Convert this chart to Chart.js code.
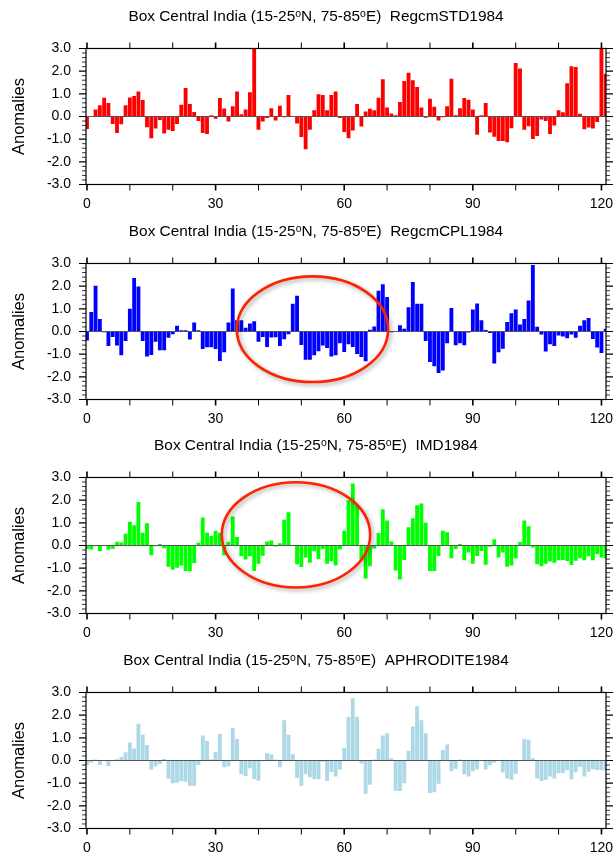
<!DOCTYPE html>
<html><head><meta charset="utf-8">
<script src="https://cdn.jsdelivr.net/npm/chart.js@4.4.1/dist/chart.umd.min.js"></script>
<style>
html,body{margin:0;padding:0;background:#fff;overflow:hidden;width:614px;height:862px;position:relative;}
canvas.panel{position:absolute;left:0;}
</style></head><body>
<canvas id="c0" class="panel" width="632" height="215" style="top:0px"></canvas>
<canvas id="c1" class="panel" width="632" height="215" style="top:215px"></canvas>
<canvas id="c2" class="panel" width="632" height="215" style="top:429px"></canvas>
<canvas id="c3" class="panel" width="632" height="215" style="top:644px"></canvas>
<script>
// ---------------- data ----------------
const xIndex = [0,1,2,3,4,5,6,7,8,9,10,11,12,13,14,15,16,17,18,19,20,21,22,23,24,25,26,27,28,29,
30,31,32,33,34,35,36,37,38,39,40,41,42,43,44,45,46,47,48,49,50,51,52,53,54,55,56,57,58,59,
60,61,62,63,64,65,66,67,68,69,70,71,72,73,74,75,76,77,78,79,80,81,82,83,84,85,86,87,88,89,
90,91,92,93,94,95,96,97,98,99,100,101,102,103,104,105,106,107,108,109,110,111,112,113,114,115,116,117,118,119,120,121];

const xTickLabels = [0,30,60,90,120];
const xMinorTicks = [0,10,20,30,40,50,60,70,80,90,100,110,120];
const yTickLabels = [-3,-2,-1,0,1,2,3];

const regcmSTD1984 = [-0.55,0.02,0.31,0.5,0.83,0.6,-0.33,-0.73,-0.34,0.5,
0.84,0.9,1.1,0.73,-0.47,-0.96,-0.53,-0.16,-0.75,-0.58,
-0.64,-0.33,0.52,1.26,0.55,0.2,-0.2,-0.73,-0.77,0.05,
-0.1,0.82,0.35,-0.22,0.45,1.1,0.1,0.31,1.07,3.0,
-0.58,-0.22,-0.07,0.36,-0.18,0.47,-0.03,0.95,0.0,-0.31,
-0.9,-1.45,-0.59,0.28,0.98,0.95,0.27,0.95,1.1,-0.07,
-0.68,-0.96,-0.62,0.55,-0.44,0.22,0.34,0.27,0.83,1.64,
0.4,0.13,0.06,0.64,1.56,1.93,1.6,1.3,0.4,-0.06,
0.78,0.43,-0.18,-0.03,0.45,1.66,0.05,0.36,0.82,0.74,
0.31,-0.8,0.05,0.6,-0.71,-0.89,-1.08,-1.08,-1.14,-0.52,
2.36,2.12,-0.58,-0.43,-0.99,-0.86,-0.13,-0.2,-0.77,-0.4,
0.27,0.19,1.47,2.22,2.18,0.12,-0.56,-0.49,-0.53,-0.24,
3.0,1.88];

const regcmCPL1984 = [-0.4,0.86,2.02,0.55,-0.03,-0.64,-0.24,-0.62,-1.05,-0.42,
1.0,2.36,1.99,-0.42,-1.1,-1.04,-0.45,-0.83,-0.83,-0.28,
-0.12,0.25,0.05,0.05,-0.35,0.4,0.06,-0.77,-0.7,-0.7,
-0.77,-1.3,-0.92,0.4,1.9,0.5,0.5,0.17,0.35,0.45,
-0.45,-0.24,-0.68,-0.27,-0.25,-0.64,-0.34,-0.12,1.22,1.58,
-0.6,-1.25,-1.25,-1.05,-0.87,-0.62,-0.73,-1.1,-1.05,-0.52,
-0.9,-0.56,-0.68,-0.99,-1.12,-1.31,0.08,0.22,1.8,2.08,
1.52,-0.03,0.0,0.28,0.12,1.07,2.18,1.22,1.22,-0.42,
-1.35,-1.53,-1.83,-1.72,-0.52,1.04,-0.61,-0.52,-0.61,-0.05,
0.97,1.23,0.5,0.07,-0.07,-1.41,-0.92,-0.76,0.42,0.8,
0.97,0.31,0.55,1.37,2.93,0.21,-0.13,-0.88,-0.56,-0.64,
-0.18,-0.22,-0.3,-0.13,-0.28,0.25,0.5,0.59,-0.33,-0.71,
-0.95,0.12];

const imd1984 = [-0.15,-0.18,-0.03,-0.25,0.0,-0.18,-0.15,0.16,0.13,0.52,
1.05,0.89,1.92,0.56,0.98,-0.43,-0.03,0.07,-0.12,-0.94,
-1.07,-0.98,-0.88,-1.13,-1.14,-0.77,0.12,1.23,0.56,0.42,
0.65,0.56,-0.43,0.16,1.28,0.37,-0.48,-0.62,-0.48,-1.13,
-0.8,-0.45,0.18,0.22,-0.04,0.1,1.13,1.47,0.0,-0.83,
-0.95,-0.53,-0.76,-0.25,-0.61,-0.16,-0.8,-0.7,-0.88,-0.18,
0.65,2.0,2.73,1.77,-0.65,-1.46,-0.92,-0.13,0.55,1.6,
1.1,0.18,-1.1,-1.5,-0.64,0.8,1.2,1.77,1.85,1.0,
-1.13,-1.13,-0.46,0.65,0.58,-0.56,-0.16,0.07,-0.65,-0.31,
-0.8,-0.46,-0.24,-0.85,-0.06,0.28,-0.53,-0.31,-0.94,-0.88,
-0.56,0.15,1.1,0.85,-0.09,-0.83,-0.92,-0.8,-0.71,-0.76,
-0.65,-0.64,-0.68,-0.86,-0.67,-0.56,-0.65,-0.48,-0.65,-0.39,
-0.53,-0.56];

const aphrodite1984 = [-0.2,-0.09,0.04,-0.2,0.0,-0.24,-0.02,0.06,0.15,0.36,
0.79,0.53,1.62,1.14,0.68,-0.4,-0.25,-0.15,0.07,-0.8,
-1.0,-0.98,-0.91,-0.94,-1.11,-1.11,-0.2,1.1,0.86,0.06,
0.39,1.17,-0.3,-0.25,1.43,0.95,-0.61,-0.68,-0.34,-0.82,
-0.89,0.0,0.33,0.28,0.04,-0.3,1.77,1.14,0.27,-0.77,
-1.11,-0.61,-0.74,-0.82,-0.83,-0.06,-0.91,-0.5,-0.71,-0.4,
0.55,1.92,2.75,1.93,-0.13,-1.47,-1.07,0.04,0.52,1.1,
1.2,0.1,-1.34,-1.35,-1.0,0.43,1.5,2.39,1.77,1.2,
-1.43,-1.4,-1.03,0.46,0.7,-0.48,-0.36,0.04,-0.61,-0.71,
-0.48,-0.39,0.0,-0.4,-0.21,-0.1,0.0,-0.53,-0.79,-0.85,
-0.59,0.0,0.95,0.91,0.1,-0.79,-0.91,-0.85,-0.71,-0.79,
-0.56,-0.55,-0.43,-0.83,-0.52,-0.28,-0.71,-0.5,-0.39,-0.42,
-0.42,-0.43];

const panelNames = ['RegcmSTD1984','RegcmCPL1984','IMD1984','APHRODITE1984'];
const panelSeries = [regcmSTD1984, regcmCPL1984, imd1984, aphrodite1984];
const boxTitle = 'Box Central India (15-25ᵒN, 75-85ᵒE)';
// highlight ellipses (annotation, in data units: centre x, centre y, radius x, radius y)
const highlightEllipses = [null, {cx:52.6, cy:0.1, rx:17.65, ry:2.33}, {cx:48.75, cy:0.47, rx:17.3, ry:2.32}, null];

// ---------------- styling ----------------
const barColors = ['#ff0000','#0000ff','#00ff00','#add8e6'];
const FONT = "'Liberation Sans', Arial, Helvetica, sans-serif";

const framePlugin = {
  id: 'frame',
  afterDatasetsDraw(chart) {
    const {ctx, chartArea: a, scales: {y}} = chart;
    const y0 = Math.round(y.getPixelForValue(0)) + 0.5;
    ctx.save();
    ctx.strokeStyle = '#555555';
    ctx.lineWidth = 1;
    ctx.beginPath(); ctx.moveTo(a.left, y0); ctx.lineTo(a.right, y0); ctx.stroke();
    ctx.restore();
  },
  afterDraw(chart, args, opts) {
    const {ctx, chartArea: a, scales: {x, y}} = chart;
    ctx.save();
    ctx.strokeStyle = '#000';
    ctx.lineWidth = 1.2;
    ctx.strokeRect(a.left, a.top, a.right - a.left, a.bottom - a.top);
    xMinorTicks.forEach(v => {
      const px = x.getPixelForValue(v);
      const major = xTickLabels.includes(v);
      ctx.lineWidth = major ? 1.6 : 1;
      const len = 6;
      ctx.beginPath();
      ctx.moveTo(px, a.bottom); ctx.lineTo(px, a.bottom + len);
      ctx.moveTo(px, a.top); ctx.lineTo(px, a.top - len);
      ctx.stroke();
    });
    for (let k = -15; k <= 15; k++) {
      const v = k / 5;
      const py = y.getPixelForValue(v);
      const major = (k % 5 === 0);
      const len = major ? 7 : 4;
      ctx.lineWidth = major ? 1.2 : 0.8;
      ctx.beginPath();
      ctx.moveTo(a.left, py); ctx.lineTo(a.left - len, py);
      ctx.moveTo(a.right, py); ctx.lineTo(a.right + len, py);
      ctx.stroke();
    }
    const e = opts.ellipse;
    if (e) {
      const cx = x.getPixelForValue(e.cx), cy = y.getPixelForValue(e.cy);
      const rx = Math.abs(x.getPixelForValue(e.cx + e.rx) - cx);
      const ry = Math.abs(y.getPixelForValue(e.cy + e.ry) - cy);
      ctx.shadowColor = 'rgba(0,0,0,0.35)';
      ctx.shadowBlur = 4; ctx.shadowOffsetX = 2; ctx.shadowOffsetY = 2;
      ctx.strokeStyle = '#ff2200';
      ctx.lineWidth = 2.6;
      ctx.beginPath(); ctx.ellipse(cx, cy, rx, ry, 0, 0, Math.PI * 2); ctx.stroke();
    }
    ctx.restore();
  }
};

panelSeries.forEach((series, i) => {
  new Chart(document.getElementById('c' + i), {
    type: 'bar',
    data: {
      datasets: [{
        data: series.map((v, j) => ({x: xIndex[j], y: v})),
        backgroundColor: barColors[i],
        borderWidth: 0,
        barPercentage: 0.9,
        categoryPercentage: 1.0,
        clip: 0
      }]
    },
    options: {
      responsive: false,
      animation: false,
      layout: {padding: {left: 26, right: 26, top: 0, bottom: 0}},
      plugins: {
        legend: {display: false},
        tooltip: {enabled: false},
        title: {
          display: true,
          text: boxTitle + '  ' + panelNames[i],
          color: '#000',
          font: {family: FONT, size: 15.4, weight: 'normal'},
          padding: {top: 7.8, bottom: 22.2}
        },
        frame: {ellipse: highlightEllipses[i]}
      },
      scales: {
        x: {
          type: 'linear',
          offset: false,
          min: -0.23, max: 121.06,
          grid: {display: false, drawTicks: false, offset: false},
          border: {display: false},
          afterBuildTicks: s => { s.ticks = xTickLabels.map(v => ({value: v})); },
          afterFit: s => { s.height = 30.5; },
          ticks: {color: '#000', font: {family: FONT, size: 14}, padding: 11, maxRotation: 0, autoSkip: false,
                  callback: v => String(v)}
        },
        y: {
          min: -3, max: 3,
          grid: {display: false, drawTicks: false},
          border: {display: false},
          afterBuildTicks: s => { s.ticks = yTickLabels.map(v => ({value: v})); },
          afterFit: s => { s.width = 60; },
          ticks: {color: '#000', font: {family: FONT, size: 14}, padding: 15,
                  callback: v => Number(v).toFixed(1)},
          title: {display: true, text: 'Anomalies', color: '#000',
                  font: {family: FONT, size: 16.5}, padding: {top: -16, bottom: 0}}
        }
      }
    },
    plugins: [framePlugin]
  });
});
</script>
</body></html>
